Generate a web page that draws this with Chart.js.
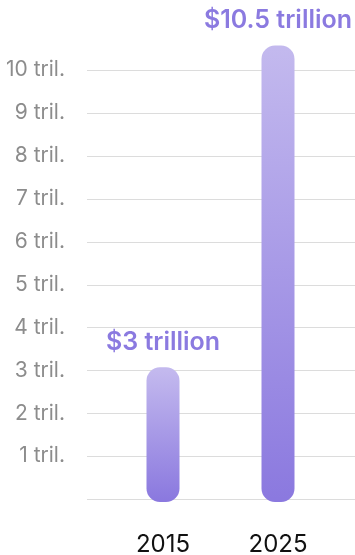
<!DOCTYPE html>
<html>
<head>
<meta charset="utf-8">
<script src="https://cdn.jsdelivr.net/npm/chart.js@4/dist/chart.umd.min.js"></script>
<style>
  html, body { margin: 0; padding: 0; background: #fff; }
  #wrap { width: 355px; height: 555px; position: relative; }
</style>
</head>
<body>
<div id="wrap"><canvas id="chart"></canvas></div>
<script>
const years = ['2015', '2025'];
const values = [3, 10.5];
const valueLabels = ['$3 trillion', '$10.5 trillion'];
const yTicks = [0, 1, 2, 3, 4, 5, 6, 7, 8, 9, 10];

const FONT = 'Inter, "Noto Sans", sans-serif';
const GRID_LEFT = 87; // grid lines run wider than the bar area

// gradient per bar, light at the top, darker at the bottom
function barGradient(ctx) {
    const chart = ctx.chart;
    if (!chart.chartArea) return '#9d8de3';
    const y = chart.scales.y;
    const top = y.getPixelForValue(values[ctx.dataIndex]);
    const bottom = y.getPixelForValue(0);
    const g = chart.ctx.createLinearGradient(0, top, 0, bottom);
    g.addColorStop(0, '#c3b9ee');
    g.addColorStop(1, '#8b79df');
    return g;
}

// horizontal grid lines from the tick labels to the right edge
const gridPlugin = {
    id: 'wideGrid',
    beforeDatasetsDraw(chart) {
        const ctx = chart.ctx;
        const y = chart.scales.y;
        ctx.save();
        ctx.strokeStyle = '#dcdcdc';
        ctx.lineWidth = 1;
        yTicks.forEach(v => {
            const py = Math.round(y.getPixelForValue(v)) + 0.5;
            ctx.beginPath();
            ctx.moveTo(GRID_LEFT, py);
            ctx.lineTo(chart.width, py);
            ctx.stroke();
        });
        ctx.restore();
    }
};

// text above each bar
const valueLabelPlugin = {
    id: 'valueLabels',
    afterDatasetsDraw(chart) {
        const ctx = chart.ctx;
        const meta = chart.getDatasetMeta(0);
        ctx.save();
        ctx.font = '600 25px ' + FONT;
        ctx.fillStyle = '#8b7ae0';
        ctx.textAlign = 'center';
        ctx.textBaseline = 'middle';
        meta.data.forEach((bar, i) => {
            ctx.fillText(valueLabels[i], bar.x, bar.y - 28);
        });
        ctx.restore();
    }
};

new Chart(document.getElementById('chart'), {
    type: 'bar',
    data: {
        labels: years,
        datasets: [{
            data: values,
            backgroundColor: barGradient,
            borderRadius: 16,
            borderSkipped: false,
            barThickness: 27,
            inflateAmount: 3,
            clip: false
        }]
    },
    options: {
        responsive: true,
        maintainAspectRatio: false,
        animation: false,
        layout: { padding: { top: 70, right: 19.5, bottom: 0, left: 0 } },
        plugins: { legend: { display: false }, tooltip: { enabled: false } },
        scales: {
            x: {
                offset: true,
                grid: { display: false },
                border: { display: false },
                afterFit: scale => { scale.height = 56; },
                ticks: {
                    color: '#111',
                    font: { family: FONT, size: 24 },
                    padding: 23,
                    maxRotation: 0
                }
            },
            y: {
                min: 0,
                max: 10,
                afterBuildTicks: scale => { scale.ticks = yTicks.map(v => ({ value: v })); },
                afterFit: scale => { scale.width = 105.5; },
                grid: { display: false, drawTicks: false },
                border: { display: false },
                ticks: {
                    callback: v => v === 0 ? '' : v + ' tril.',
                    color: '#8c8c8c',
                    font: { family: FONT, size: 21 },
                    padding: 40.5
                }
            }
        }
    },
    plugins: [gridPlugin, valueLabelPlugin]
});
</script>
</body>
</html>
